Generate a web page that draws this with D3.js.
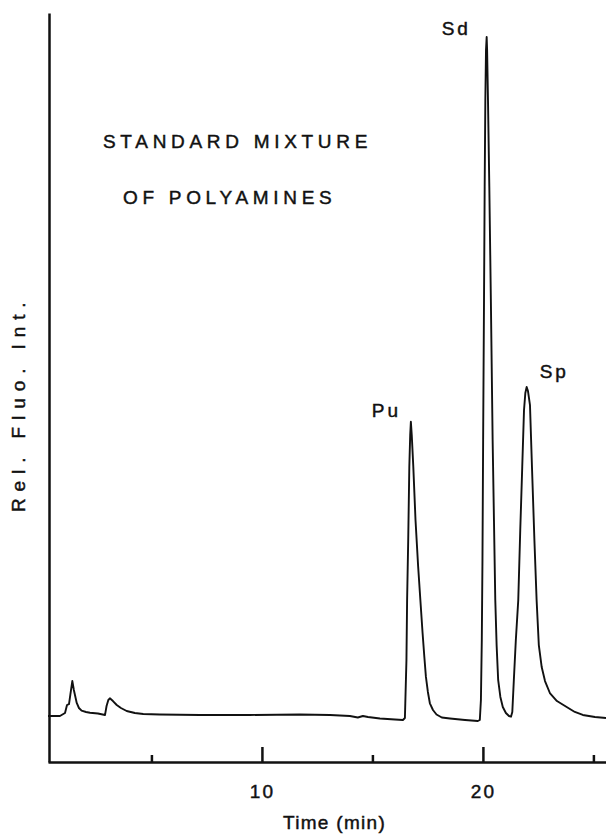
<!DOCTYPE html>
<html>
<head>
<meta charset="utf-8">
<script src="https://cdn.jsdelivr.net/npm/d3@7/dist/d3.min.js"></script>
<style>
  html, body { margin: 0; padding: 0; background: #fff; }
  svg { display: block; }
  text { font-family: "Liberation Sans", Arial, Helvetica, sans-serif; fill: #111; stroke: #111; stroke-width: 0.45px; }
</style>
</head>
<body>
<svg id="chart" width="606" height="838"></svg>
<script>
// Retention time (min) of each traced point
const times = [
  0.32, 0.86, 1.09, 1.18, 1.27, 1.33, 1.42, 1.49, 1.62, 1.72, 1.84, 2.04, 2.22, 2.58, 2.90,
  2.97, 3.05, 3.12, 3.26, 3.43, 3.62, 3.88, 4.25, 4.63, 5.38, 7.19, 9.46, 11.72, 13.08, 13.98,
  14.34, 14.57, 14.80, 15.34, 16.02, 16.38, 16.47, 16.54, 16.57, 16.62, 16.67, 16.71, 16.74,
  16.78, 16.85, 16.95, 17.07, 17.17, 17.27, 17.35, 17.42, 17.51, 17.60, 17.74, 17.90, 18.14,
  18.51, 19.19, 19.77, 19.86, 19.91, 19.95, 19.98, 20.01, 20.05, 20.08, 20.11, 20.14, 20.17,
  20.19, 20.23, 20.29, 20.36, 20.44, 20.50, 20.56, 20.62, 20.69, 20.79, 20.90, 21.04, 21.18,
  21.27, 21.33, 21.40, 21.49, 21.60, 21.69, 21.78, 21.86, 21.92, 21.98, 22.04, 22.13, 22.22,
  22.33, 22.43, 22.53, 22.66, 22.81, 23.03, 23.35, 23.79, 24.16, 24.52, 25.07, 25.57
];
// Relative fluorescence intensity (arbitrary units) at each time
const intensity = [
  6.14, 6.14, 6.54, 7.61, 7.74, 8.95, 10.81, 9.61, 7.88, 7.21, 6.85, 6.68, 6.58, 6.48, 6.28,
  7.48, 8.28, 8.50, 8.14, 7.61, 7.21, 6.81, 6.54, 6.41, 6.34, 6.28, 6.28, 6.34, 6.28, 6.14,
  5.94, 6.14, 6.01, 5.81, 5.67, 5.61, 5.87, 13.62, 21.63, 29.64, 39.43, 43.66, 45.43,
  43.66, 39.43, 32.31, 26.07, 21.63, 17.22, 14.02, 11.39, 9.35, 7.84, 6.94, 6.34, 5.94,
  5.81, 5.61, 5.47, 5.61, 8.28, 16.29, 26.97, 42.99, 61.68, 76.81, 88.38, 95.06, 96.80,
  95.06, 88.38, 76.81, 61.68, 42.99, 32.31, 21.63, 15.62, 10.95, 8.68, 7.34, 6.54, 6.14,
  6.05, 6.68, 10.95, 16.29, 21.63, 30.97, 39.43, 47.00, 49.27, 50.07, 49.53, 47.66, 39.43,
  29.64, 21.63, 15.62, 12.68, 10.81, 9.21, 8.14, 7.34, 6.68, 6.28, 6.01, 5.87
];
// Peak names and the time window in which each peak's apex lies
const peakNames = ["Pu", "Sd", "Sp"];
const peakWindows = [[16, 18], [19.5, 21], [21.5, 23]];
// Axis ticks
const tickValues = [5, 10, 15, 20, 25];
const tickLabels = ["", "10", "", "20", ""];
const majorTicks = [10, 20];
// Texts
const titleLines = ["STANDARD MIXTURE", "OF POLYAMINES"];
const xTitle = "Time (min)";
const yTitle = "Rel. Fluo. Int.";

const svg = d3.select("#chart");
const x = d3.scaleLinear().domain([0.32, 25.57]).range([48, 606]);
const y = d3.scaleLinear().domain([0, 100]).range([762, 13]);

const data = times.map((t, i) => ({ t, v: intensity[i] }));

// X axis
const xAxis = d3.axisBottom(x)
  .tickValues(tickValues)
  .tickSizeInner(-15)
  .tickSizeOuter(0)
  .tickPadding(23)
  .tickFormat((d, i) => tickLabels[i]);
const gx = svg.append("g").attr("transform", `translate(0,${y(0)})`).call(xAxis);
gx.attr("font-family", null).attr("font-size", null);
gx.select(".domain").attr("stroke", "#111").attr("stroke-width", 2.5);
gx.selectAll(".tick line").attr("stroke", "#111").attr("stroke-width", 2.5)
  .attr("y2", d => majorTicks.includes(d) ? -15 : -7);
gx.selectAll(".tick text").style("font-size", "19px").style("letter-spacing", "2px")
  .attr("fill", "#111");

// Y axis (no ticks)
const gy = svg.append("g").attr("transform", `translate(49,0)`)
  .call(d3.axisLeft(y).tickValues([]).tickSizeOuter(0));
gy.select(".domain").attr("stroke", "#111").attr("stroke-width", 2.5);

// Trace
const line = d3.line().x(d => x(d.t)).y(d => y(d.v)).curve(d3.curveLinear);
svg.append("path").datum(data)
  .attr("d", line)
  .attr("fill", "none")
  .attr("stroke", "#111")
  .attr("stroke-width", 1.9)
  .attr("stroke-linejoin", "round");

// Peak labels, placed relative to each peak apex
const labelOffsets = [[-39, -5], [-45, -2], [13, -9]];
peakNames.forEach((name, i) => {
  const w = peakWindows[i];
  const apex = d3.greatest(data.filter(d => d.t >= w[0] && d.t <= w[1]), d => d.v);
  svg.append("text")
    .attr("x", x(apex.t) + labelOffsets[i][0])
    .attr("y", y(apex.v) + labelOffsets[i][1])
    .style("font-size", "19px")
    .style("letter-spacing", "3px")
    .text(name);
});

// Title inside plot
const titleX = [103, 123];
const titleY = [148, 204];
titleLines.forEach((s, i) => {
  svg.append("text")
    .attr("x", titleX[i]).attr("y", titleY[i])
    .style("font-size", "19px")
    .style("letter-spacing", "4.7px")
    .text(s);
});

// Axis titles
svg.append("text")
  .attr("x", 283).attr("y", 829)
  .style("font-size", "19px")
  .style("letter-spacing", "1.3px")
  .text(xTitle);

svg.append("text")
  .attr("transform", "translate(25,512) rotate(-90)")
  .attr("x", 0).attr("y", 0)
  .style("font-size", "19px")
  .style("letter-spacing", "6.9px")
  .text(yTitle);
</script>
</body>
</html>
